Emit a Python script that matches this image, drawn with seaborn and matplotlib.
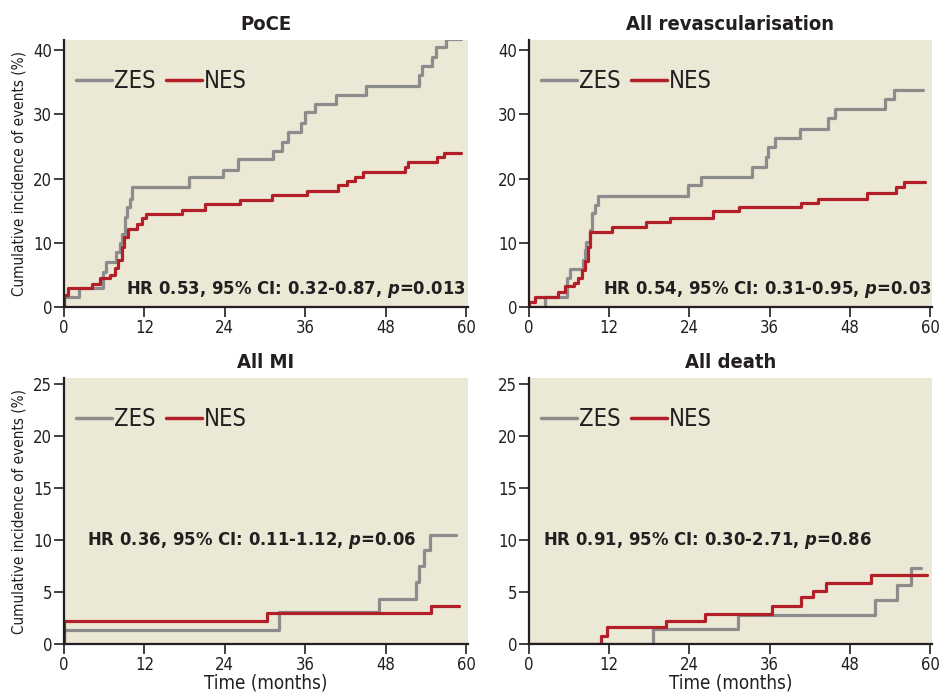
import numpy as np
import pandas as pd
import matplotlib
matplotlib.use("Agg")
import matplotlib.pyplot as plt
from matplotlib.lines import Line2D
import seaborn as sns

# ---------------- data ----------------
panel_titles = ["PoCE", "All revascularisation", "All MI", "All death"]
hr_texts = [
    "HR 0.53, 95% CI: 0.32-0.87, $\\mathit{p}$=0.013",
    "HR 0.54, 95% CI: 0.31-0.95, $\\mathit{p}$=0.03",
    "HR 0.36, 95% CI: 0.11-1.12, $\\mathit{p}$=0.06",
    "HR 0.91, 95% CI: 0.30-2.71, $\\mathit{p}$=0.86",
]
groups = ["ZES", "NES"]

poce_zes_t = [0, 0, 2.3, 5.8, 6.25, 7.8, 8.3, 8.6, 9.1, 9.4, 9.8, 10.2, 18.6, 23.8, 25.9, 31.2, 32.5,
              33.4, 35.4, 35.9, 37.4, 40.6, 45.1, 53.0, 53.4, 55.0, 55.5, 57.0, 59.2]
poce_zes_v = [0, 1.5, 2.9, 5.5, 7.0, 8.6, 9.9, 11.4, 14.0, 15.6, 16.9, 18.7, 20.2, 21.4, 23.0, 24.3, 25.7,
              27.3, 28.6, 30.4, 31.7, 33.1, 34.5, 36.1, 37.6, 38.9, 40.5, 41.8, 41.8]
poce_nes_t = [0, 0, 0.6, 4.2, 5.3, 6.8, 7.6, 8.1, 8.6, 9.0, 9.6, 10.9, 11.6, 12.3, 17.6, 21.1, 26.3,
              31.1, 36.2, 40.9, 42.3, 43.4, 44.6, 50.9, 51.3, 55.6, 56.7, 59.2]
poce_nes_v = [0, 1.8, 2.9, 3.6, 4.5, 5.0, 6.0, 7.3, 9.4, 10.9, 12.1, 12.9, 13.8, 14.5, 15.1, 16.0, 16.7,
              17.4, 18.1, 19.0, 19.7, 20.3, 21.0, 21.8, 22.6, 23.3, 24.0, 24.0]

rev_zes_t = [0, 2.4, 5.7, 6.2, 8.1, 8.4, 8.6, 9.1, 9.5, 9.9, 10.3, 23.8, 25.7, 33.3, 35.4, 35.7,
             36.8, 40.5, 44.8, 45.8, 53.2, 54.6, 58.9]
rev_zes_v = [0.0, 1.6, 4.5, 5.9, 7.3, 8.9, 10.2, 12.0, 14.6, 15.9, 17.3, 19.0, 20.3, 21.8, 23.4, 24.9,
             26.4, 27.8, 29.4, 30.8, 32.4, 33.8, 33.8]
rev_nes_t = [0, 0, 0.9, 4.4, 5.4, 6.8, 7.4, 8.0, 8.4, 8.8, 9.1, 12.4, 17.5, 21.1, 27.5, 31.4, 40.7,
             43.3, 50.6, 54.9, 56.1, 59.2]
rev_nes_v = [0, 0.8, 1.6, 2.4, 3.2, 3.8, 4.5, 5.8, 7.1, 9.4, 11.7, 12.5, 13.3, 13.9, 14.9, 15.6, 16.2,
             16.9, 17.7, 18.7, 19.5, 19.5]

mi_zes_t = [0, 0, 32.1, 47.0, 52.6, 53.0, 53.7, 54.6, 58.5]
mi_zes_v = [0, 1.35, 3.1, 4.3, 6.0, 7.5, 9.0, 10.5, 10.5]
mi_nes_t = [0, 0, 30.3, 54.8, 59.0]
mi_nes_v = [0, 2.25, 2.96, 3.7, 3.7]

death_zes_t = [0, 18.6, 31.3, 51.8, 55.1, 57.1, 58.6]
death_zes_v = [0, 1.48, 2.8, 4.2, 5.7, 7.35, 7.35]
death_nes_t = [0, 10.8, 11.6, 20.5, 26.3, 36.3, 40.7, 42.5, 44.5, 51.1, 59.6]
death_nes_v = [0, 0.8, 1.6, 2.2, 2.9, 3.7, 4.5, 5.1, 5.9, 6.6, 6.6]

x_ticks = [0, 12, 24, 36, 48, 60]
y_ticks_top = [0, 10, 20, 30, 40]
y_ticks_bottom = [0, 5, 10, 15, 20, 25]

# ---------------- styling ----------------
sns.set_theme(style="ticks")
plt.rcParams["font.family"] = ["DejaVu Sans"]
plt.rcParams["font.stretch"] = "condensed"
plt.rcParams["mathtext.fontset"] = "custom"
plt.rcParams["mathtext.rm"] = "DejaVu Sans:bold:stretch=condensed"
plt.rcParams["mathtext.it"] = "DejaVu Sans:bold:italic:stretch=condensed"

BG = "#ECE8D6"
palette = {"ZES": "#8C8C8C", "NES": "#B21F29"}
TXT = "#231F20"


def make_df(zt, zv, nt, nv):
    return pd.concat([
        pd.DataFrame({"time": zt, "inc": zv, "group": "ZES"}),
        pd.DataFrame({"time": nt, "inc": nv, "group": "NES"}),
    ], ignore_index=True)


datasets = [
    make_df(poce_zes_t, poce_zes_v, poce_nes_t, poce_nes_v),
    make_df(rev_zes_t, rev_zes_v, rev_nes_t, rev_nes_v),
    make_df(mi_zes_t, mi_zes_v, mi_nes_t, mi_nes_v),
    make_df(death_zes_t, death_zes_v, death_nes_t, death_nes_v),
]

fig = plt.figure(figsize=(9.41, 6.97), dpi=100)
W, H = 941, 697
boxes = [(64, 40, 468, 307), (529, 40, 932, 307), (64, 378, 468, 644), (529, 378, 932, 644)]
ylims = [41.6, 41.6, 25.6, 25.6]
hr_pos = [(0.995, 0.05, "right", "baseline"), (0.998, 0.05, "right", "baseline"),
          (0.057, 0.39, "left", "center"), (0.035, 0.39, "left", "center")]

for i, (x0, y0, x1, y1) in enumerate(boxes):
    ax = fig.add_axes([x0 / W, 1 - y1 / H, (x1 - x0) / W, (y1 - y0) / H])
    ax.set_facecolor(BG)
    df = datasets[i]
    for g in groups:
        sub = df[df.group == g]
        sns.lineplot(data=sub, x="time", y="inc", color=palette[g], estimator=None,
                     sort=False, drawstyle="steps-post", linewidth=2.3, ax=ax, legend=False)
    ax.set_xlim(0, 60.3)
    ax.set_ylim(0, ylims[i])
    ax.set_xticks(x_ticks)
    ax.set_yticks(y_ticks_top if i < 2 else y_ticks_bottom)
    for s in ["top", "right"]:
        ax.spines[s].set_visible(False)
    for s in ["left", "bottom"]:
        ax.spines[s].set_linewidth(1.6)
        ax.spines[s].set_color(TXT)
    ax.tick_params(axis="both", length=7, width=1.2, color=TXT, labelsize=12,
                   labelcolor=TXT, pad=1.5)
    ax.set_title(panel_titles[i], fontsize=14.5, fontweight="bold", color=TXT, pad=7)
    ax.set_xlabel("Time (months)" if i >= 2 else "", fontsize=13.5, color=TXT, labelpad=0)
    ax.set_ylabel("Cumulative incidence of events (%)" if i % 2 == 0 else "",
                  fontsize=11, color=TXT, labelpad=4.5)

    handles = [Line2D([], [], color=palette[g], lw=2.5) for g in groups]
    ax.legend(handles, groups, loc="upper left", bbox_to_anchor=(-0.005, 0.945), ncol=2,
              frameon=False, fontsize=17, handlelength=1.5, handletextpad=0.1,
              columnspacing=0.45, labelcolor=TXT, borderaxespad=0.2)

    hx, hy, ha, va = hr_pos[i]
    ax.text(hx, hy, hr_texts[i], transform=ax.transAxes, ha=ha, va=va,
            fontsize=13.2, fontweight="bold", color=TXT)

fig.savefig("out.png", dpi=100)
